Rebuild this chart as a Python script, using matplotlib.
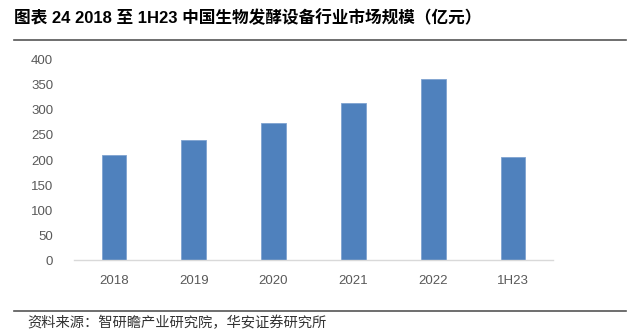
import matplotlib.pyplot as plt
from matplotlib.lines import Line2D

plt.rcParams['font.family'] = ['Liberation Sans', 'Noto Sans CJK SC', 'DejaVu Sans']

categories = ['2018', '2019', '2020', '2021', '2022', '1H23']
values = [210, 239, 274, 314, 361, 207]
yticks = [0, 50, 100, 150, 200, 250, 300, 350, 400]

title = '图表 24 2018 至 1H23 中国生物发酵设备行业市场规模（亿元）'
source = '资料来源：智研瞻产业研究院，华安证券研究所'

fig = plt.figure(figsize=(6.39, 3.33), dpi=100)
ax = fig.add_axes([0.1158, 0.219, 0.7495, 0.601])

x = range(len(categories))
ax.bar(x, values, width=0.31, color='#4F81BD', edgecolor='#7FA3D0', linewidth=0.6, zorder=2)

ax.set_xlim(-0.5, len(categories) - 0.5)
ax.set_ylim(0, 400)
ax.set_yticks(yticks)
ax.set_xticks(list(x))
ax.set_xticklabels(categories)

for s in ['top', 'right', 'left']:
    ax.spines[s].set_visible(False)
ax.spines['bottom'].set_color('#D9D9D9')
ax.spines['bottom'].set_linewidth(1)
ax.tick_params(axis='both', length=0, colors='#595959', labelsize=9.5)
ax.tick_params(axis='y', pad=15)
ax.tick_params(axis='x', pad=11)

# title and source
fig.text(0.022, 0.948, title, fontsize=12, fontweight='bold', color='#000000',
         ha='left', va='center')
fig.add_artist(Line2D([0.022, 0.98], [0.88, 0.88], color='#555555', linewidth=1.2,
                      transform=fig.transFigure))
fig.add_artist(Line2D([0.022, 0.98], [0.066, 0.066], color='#555555', linewidth=1.2,
                      transform=fig.transFigure))
fig.text(0.042, 0.03, source, fontsize=10.3, color='#333333', ha='left', va='center',
         family=['Noto Sans CJK SC', 'DejaVu Sans'])

fig.savefig('out.png', dpi=100)
